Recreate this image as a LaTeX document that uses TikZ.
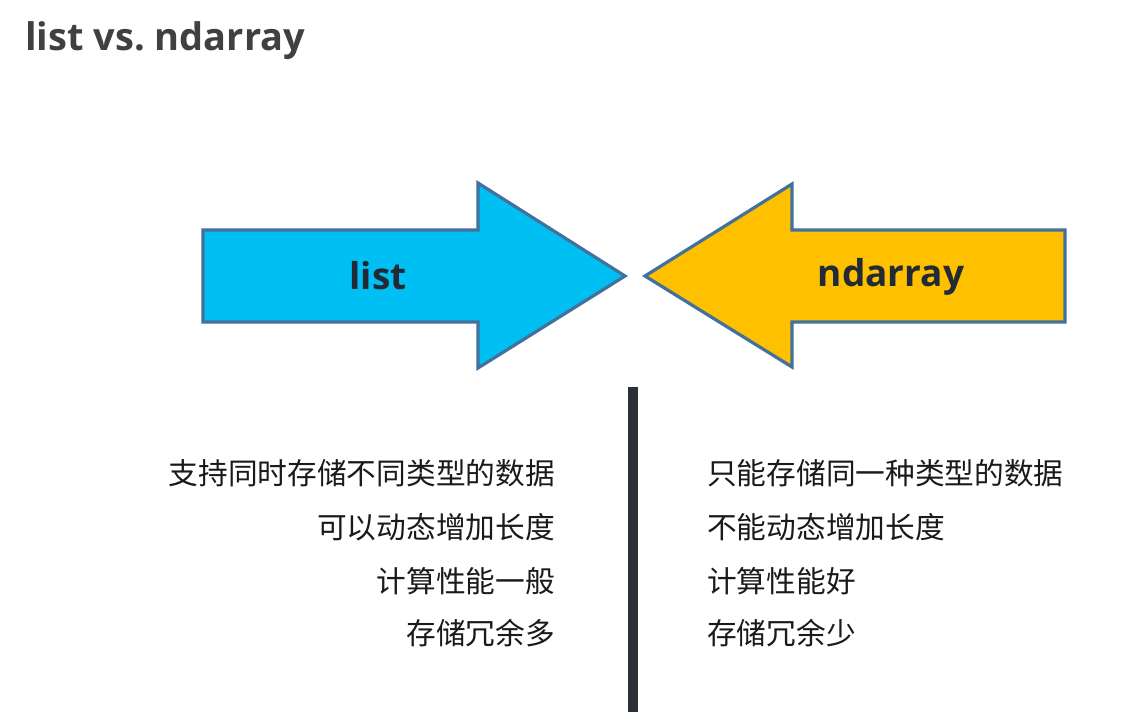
\documentclass[tikz,border=0pt]{standalone}
\usepackage{fontspec}
\setmainfont{Noto Sans CJK SC}
\newfontfamily\latinfont{Open Sans}
\usetikzlibrary{positioning}
\definecolor{listfill}{RGB}{0,191,243}
\definecolor{ndfill}{RGB}{255,192,0}
\definecolor{arrowedge}{RGB}{65,113,156}
\definecolor{bardark}{RGB}{43,47,54}
\definecolor{titlegray}{RGB}{64,64,64}
\definecolor{labeldark}{RGB}{34,42,53}
\definecolor{itemdark}{RGB}{26,26,26}
\begin{document}
\begin{tikzpicture}[x=1pt,y=-1pt,
  bigarr/.style={draw=arrowedge,line width=3.2pt,line join=miter,fill=#1},
  lbl/.style={font=\latinfont\bfseries\fontsize{37}{44}\selectfont,text=labeldark,inner sep=0pt},
  item/.style={font=\fontsize{29.7}{36}\selectfont,text=itemdark,inner sep=0pt}]
\useasboundingbox[fill=white] (0,0) rectangle (1138,712);
\node[font=\latinfont\bfseries\fontsize{38}{46}\selectfont,text=titlegray,anchor=west,inner sep=0pt] (title) at (25,41) {list vs.\ ndarray};
% the two arrows
\draw[bigarr=listfill] (203,230) -- (478,230) -- (478,183) -- (625,276) -- (478,368) -- (478,322) -- (203,322) -- cycle;
\draw[bigarr=ndfill] (1065,230) -- (792,230) -- (792,184) -- (645,276) -- (792,367) -- (792,322) -- (1065,322) -- cycle;
\node[lbl] (list) at (378,276) {list};
\node[lbl] (nd) at (891,277) {ndarray};
% divider
\fill[bardark] (628,387) rectangle (638,712);
% left column
\node[item,anchor=east] (l1) at (555,473) {支持同时存储不同类型的数据};
\node[item,anchor=east] (l2) at (555,527) {可以动态增加长度};
\node[item,anchor=east] (l3) at (555,581) {计算性能一般};
\node[item,anchor=east] (l4) at (555,633) {存储冗余多};
% right column
\node[item,anchor=west] (r1) at (707,473) {只能存储同一种类型的数据};
\node[item,anchor=west] (r2) at (707,527) {不能动态增加长度};
\node[item,anchor=west] (r3) at (707,581) {计算性能好};
\node[item,anchor=west] (r4) at (707,633) {存储冗余少};
\end{tikzpicture}
\end{document}
